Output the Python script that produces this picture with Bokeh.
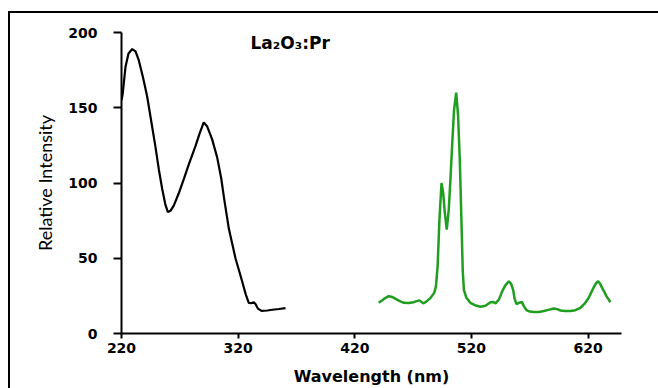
from bokeh.plotting import figure
from bokeh.models import Range1d, FixedTicker, Label
from bokeh.embed import file_html
from bokeh.resources import INLINE

# Excitation spectrum (black)
ex_wl = [220, 221, 223.4, 226, 229.2, 232, 234.8, 238.5, 242, 245.5, 249, 252, 254.9, 257.5,
         259.7, 262, 264.8, 269, 273.4, 278, 283.4, 287, 290.5, 293.5, 297.7, 302, 305.5,
         308, 312, 317.7, 323.4, 326.5, 329.1, 331.5, 333.5, 335, 337, 340, 345, 349.2, 355, 360.6]
ex_int = [155, 159, 177, 186, 189, 187.5, 181.6, 170, 157.5, 141, 124.5, 109, 96, 86,
          80.7, 81.5, 85, 93, 102.6, 113, 124.5, 133, 140.3, 137.5, 129, 117, 103,
          89.5, 69.7, 50, 34.7, 26, 20.4, 20.2, 20.8, 19.5, 16.5, 15, 15.3, 15.8, 16.3, 16.9]

# Emission spectrum (green)
em_wl = [440.5, 445, 449, 452, 455, 458.5, 462, 466, 470.5, 473, 475.4, 477, 478.6, 481, 485,
         488, 489.5, 491, 492.5, 494.3, 495.8, 497.2, 498.8, 500.5, 502, 503.5, 505, 506.9,
         508.5, 510, 511.4, 512.5, 513.5, 515.5, 519, 523, 527.7, 532, 536.3, 538.5, 540.6,
         543.5, 546.3, 549, 552, 554, 555.7, 557, 558.6, 561, 563.2, 565, 567.1, 570, 573.4,
         578, 582, 586, 590.6, 593.5, 596.3, 600, 604.9, 609, 613.4, 617, 620.5, 622.5, 624.8,
         626.8, 628.3, 630, 632, 634, 635.7, 639.1]
em_int = [20.4, 23, 24.8, 24.3, 23, 21.5, 20.4, 20.2, 20.8, 21.5, 22, 21, 20, 21, 23.7,
          27, 31, 45, 75, 100, 93, 80, 69, 82, 103, 126, 148, 160,
          145, 115, 75, 42, 29, 24, 20.4, 18.8, 17.8, 18.5, 20.8, 21, 20,
          22.5, 28, 32, 34.7, 33, 29, 23, 19.5, 20.5, 21, 18, 15.6, 14.6, 14.3,
          14.3, 14.9, 15.7, 16.6, 16.2, 15.3, 14.9, 14.9, 15.5, 17.1, 19.8, 23.7, 27, 30.7,
          33.5, 34.7, 33.5, 30.3, 27.5, 24.8, 20.8]

x_ticks = [220, 320, 420, 520, 620]
y_ticks = [0, 50, 100, 150, 200]
title_text = "La\u2082O\u2083:Pr"

p = figure(width=658, height=388, output_backend="svg", toolbar_location=None,
           x_range=Range1d(220, 648.6), y_range=Range1d(0, 200),
           min_border_left=121, min_border_right=37, min_border_top=32, min_border_bottom=52,
           border_fill_color=None, background_fill_color=None)
p.styles = {
    "background": "linear-gradient(#000, #000) 8px 11px / 100% 2px no-repeat, "
                  "linear-gradient(#000, #000) 8px 11px / 2px 100% no-repeat",
}
p.outline_line_color = None
p.grid.visible = False

p.line(ex_wl, ex_int, line_color="black", line_width=2.2)
p.line(em_wl, em_int, line_color="#1f9e1f", line_width=2.5)

xa = p.xaxis[0]
xa.ticker = FixedTicker(ticks=x_ticks)
xa.axis_line_width = 2
xa.major_tick_line_width = 2
xa.major_tick_out = 5
xa.major_tick_in = 0
xa.minor_tick_line_color = None
xa.major_label_text_font = "DejaVu Sans"
xa.major_label_text_font_style = "bold"
xa.major_label_text_font_size = "14px"
xa.major_label_text_color = "black"
xa.major_label_standoff = 4
xa.axis_label = "Wavelength (nm)"
xa.axis_label_text_font = "DejaVu Sans"
xa.axis_label_text_font_style = "bold"
xa.axis_label_text_font_size = "16px"
xa.axis_label_text_color = "black"
xa.axis_label_standoff = 11

ya = p.yaxis[0]
ya.ticker = FixedTicker(ticks=y_ticks)
ya.axis_line_width = 2
ya.major_tick_line_width = 2
ya.major_tick_out = 8
ya.major_tick_in = 0
ya.minor_tick_line_color = None
ya.major_label_text_font = "DejaVu Sans"
ya.major_label_text_font_style = "bold"
ya.major_label_text_font_size = "14px"
ya.major_label_text_color = "black"
ya.major_label_standoff = 16
ya.axis_label = "Relative Intensity"
ya.axis_label_text_font = "Lato"
ya.axis_label_text_font_style = "normal"
ya.axis_label_text_font_size = "18px"
ya.axis_label_text_color = "black"
ya.axis_label_standoff = 9

p.add_layout(Label(x=330.6, y=193, text=title_text, text_font="DejaVu Sans",
                   text_font_style="bold", text_font_size="17px", text_color="black",
                   text_baseline="alphabetic"))

open("out.html", "w").write(file_html(p, INLINE))
